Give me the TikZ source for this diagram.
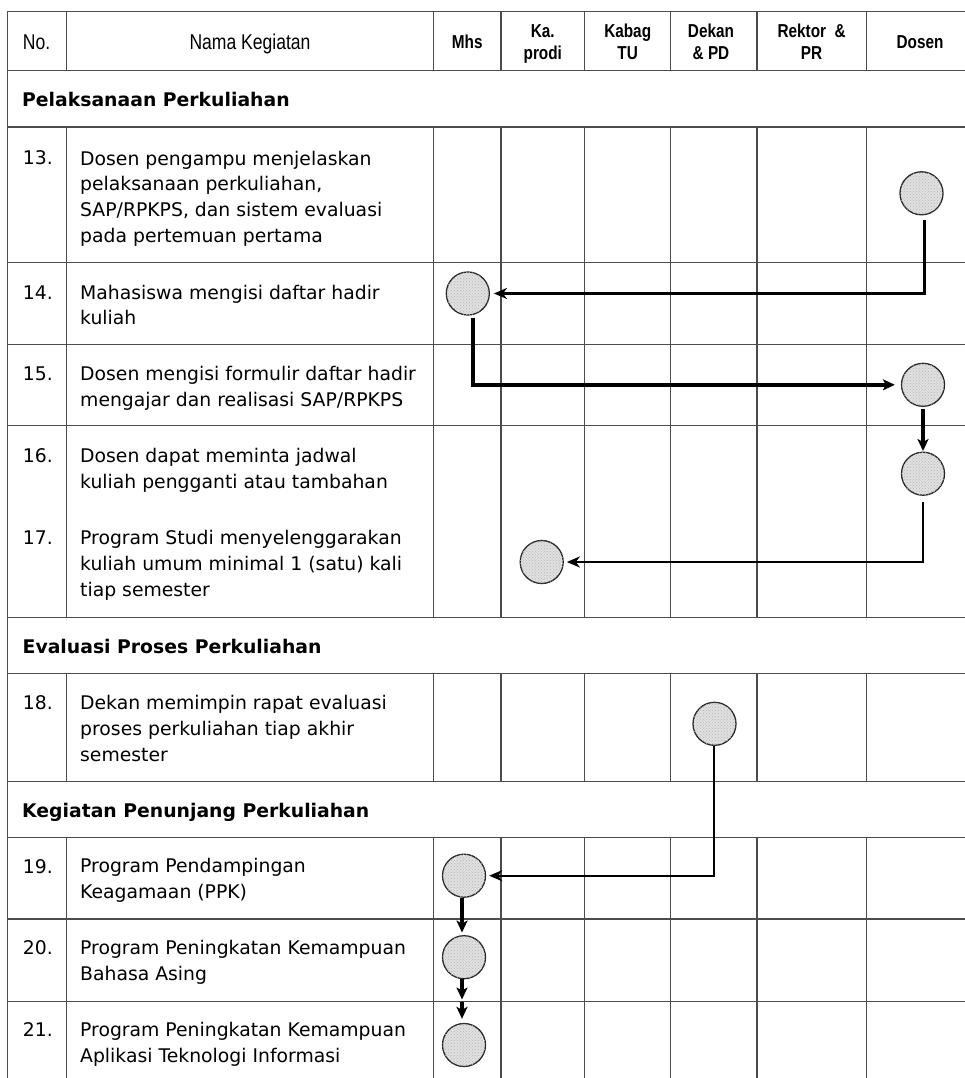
\documentclass[tikz,border=0pt]{standalone}
\usepackage{fontspec}
\setmainfont{DejaVu Sans}
\newfontfamily\hdfont[FakeStretch=0.82]{Liberation Sans}
\usetikzlibrary{arrows.meta,patterns}
\begin{document}
\begin{tikzpicture}[x=1pt,y=-1pt,
  gridline/.style={draw=black!70,line width=1.2pt},
  act/.style={circle,draw=black!85,line width=1.3pt,fill=black!12,minimum size=43pt,inner sep=0pt,
     postaction={pattern=crosshatch dots,pattern color=black!28}},
  body/.style={anchor=base west,inner sep=0pt,align=left,font=\fontsize{18.8pt}{25.8pt}\selectfont},
  num/.style={anchor=base west,inner sep=0pt,font=\fontsize{18.8pt}{25.8pt}\selectfont},
  sect/.style={anchor=base west,inner sep=0pt,font=\fontsize{18.8pt}{25.8pt}\selectfont\bfseries},
  hreg/.style={anchor=base,inner sep=0pt,font=\hdfont\fontsize{21.4pt}{22pt}\selectfont},
  hbold/.style={anchor=base,inner sep=0pt,align=center,font=\hdfont\bfseries\fontsize{18.7pt}{21.6pt}\selectfont},
  thinarr/.style={line width=2.3pt,-{Stealth[length=13pt,width=11pt,inset=4pt]}},
  thickarr/.style={line width=3.5pt,-{Stealth[length=12pt,width=11pt,inset=3pt]}},
]
\useasboundingbox (0,0) rectangle (965,1078);
% ---- table grid
\foreach \yy in {11.7,70.7,127,262.7,344.3,425.5,617.3,673.3,781.7,837.3,919,1001.5}
  \draw[gridline] (7.5,\yy) -- (965,\yy);
\draw[gridline] (7.5,11.1) -- (7.5,1078);
\foreach \xx in {66.5,433.5,501,584.7,670.8,757,866.3}{
  \draw[gridline] (\xx,11.7) -- (\xx,70.7);
  \draw[gridline] (\xx,127) -- (\xx,617.3);
  \draw[gridline] (\xx,673.3) -- (\xx,781.7);
  \draw[gridline] (\xx,837.3) -- (\xx,1078);
}
% ---- header (base anchor = baseline of last line)
\node[hreg] (hno) at (36.5,50) {No.};
\node[hreg] (hnama) at (250,50) {Nama Kegiatan};
\node[hbold] (hmhs) at (467.3,49) {Mhs};
\node[hbold] (hkap) at (542.8,59.5) {Ka.\\prodi};
\node[hbold] (hkab) at (627.7,59.5) {Kabag\\TU};
\node[hbold] (hdek) at (711,59.5) {Dekan\\\& PD};
\node[hbold] (hrek) at (811.6,59.5) {Rektor~~\&\\PR};
\node[hbold] (hdos) at (920,49) {Dosen};
% ---- sections
\node[sect] (s1) at (22,106.5) {Pelaksanaan Perkuliahan};
\node[sect] (s2) at (22.5,653) {Evaluasi Proses Perkuliahan};
\node[sect] (s3) at (22,817) {Kegiatan Penunjang Perkuliahan};
% ---- rows (body nodes placed at baseline of their last line)
\node[num] (n13) at (22.7,165) {13.};
\node[body] (t13) at (80,242.4) {Dosen pengampu menjelaskan\\pelaksanaan perkuliahan,\\SAP/RPKPS, dan sistem evaluasi\\pada pertemuan pertama};
\node[num] (n14) at (22.7,299) {14.};
\node[body] (t14) at (80,324.8) {Mahasiswa mengisi daftar hadir\\kuliah};
\node[num] (n15) at (22.7,380.5) {15.};
\node[body] (t15) at (80,406.3) {Dosen mengisi formulir daftar hadir\\mengajar dan realisasi SAP/RPKPS};
\node[num] (n16) at (22.7,462.5) {16.};
\node[body] (t16) at (80,488.3) {Dosen dapat meminta jadwal\\kuliah pengganti atau tambahan};
\node[num] (n17) at (22.7,544.5) {17.};
\node[body] (t17) at (80,596.1) {Program Studi menyelenggarakan\\kuliah umum minimal 1 (satu) kali\\tiap semester};
\node[num] (n18) at (22.7,709.5) {18.};
\node[body] (t18) at (80,761.1) {Dekan memimpin rapat evaluasi\\proses perkuliahan tiap akhir\\semester};
\node[num] (n19) at (22.7,873) {19.};
\node[body] (t19) at (80,898.5) {Program Pendampingan\\Keagamaan (PPK)};
\node[num] (n20) at (22.7,954.5) {20.};
\node[body] (t20) at (80,980) {Program Peningkatan Kemampuan\\Bahasa Asing};
\node[num] (n21) at (22.7,1036.5) {21.};
\node[body] (t21) at (80,1062) {Program Peningkatan Kemampuan\\Aplikasi Teknologi Informasi};
% ---- activity circles
\node[act] (d13) at (921.5,193.3) {};
\node[act] (m14) at (467.8,293.5) {};
\node[act] (d15) at (923,384.8) {};
\node[act] (d16) at (923,473.7) {};
\node[act] (k17) at (541.7,562) {};
\node[act] (k18) at (714.5,723.8) {};
\node[act] (m19) at (464,875.7) {};
\node[act] (m20) at (464,957.2) {};
\node[act] (m21) at (464,1045) {};
\coordinate (r20) at (462,1001.5);
% ---- connectors
\draw[thinarr,shorten <=5pt,shorten >=4pt] ([xshift=3pt]d13.south) |- (m14.east);
\draw[thickarr,shorten <=2pt,shorten >=6pt] ([xshift=5pt]m14.south) |- (d15.west);
\draw[thickarr,shorten <=2pt,shorten >=0.5pt] (d15.south) -- (d16.north);
\draw[thinarr,shorten <=6pt,shorten >=3pt] (d16.south) |- (k17.east);
\draw[thinarr,shorten >=3pt] ([xshift=-0.7pt]k18.south) |- (m19.east);
\draw[thickarr,shorten >=2.5pt] ([xshift=-2pt]m19.south) -- ([xshift=-2pt]m20.north);
\draw[thickarr,shorten >=2pt] ([xshift=-2pt]m20.south) -- (r20);
\draw[thickarr,shorten >=4pt] (r20) -- ([xshift=-2pt]m21.north);
\end{tikzpicture}
\end{document}
